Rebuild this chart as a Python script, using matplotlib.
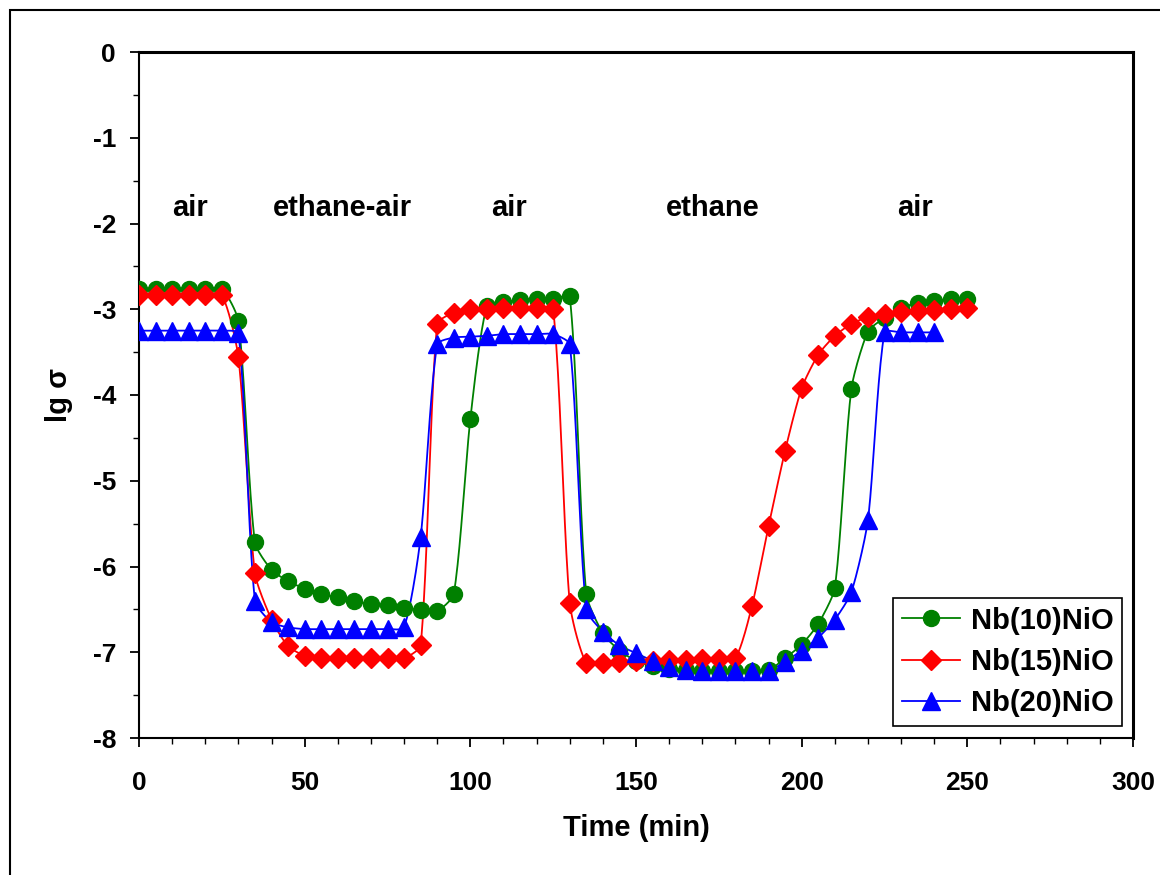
import numpy as np
import matplotlib
matplotlib.use("Agg")
import matplotlib.pyplot as plt
from matplotlib.patches import Rectangle
from matplotlib.ticker import MultipleLocator

plt.rcParams['font.family'] = ['Liberation Sans', 'DejaVu Sans']
plt.rcParams['font.weight'] = 'bold'
plt.rcParams['axes.unicode_minus'] = False

time_nb10 = list(range(0, 255, 5))
nb10 = [-2.76, -2.76, -2.76, -2.76, -2.76, -2.76, -3.14, -5.72, -6.04, -6.17,
        -6.26, -6.32, -6.36, -6.40, -6.44, -6.45, -6.48, -6.51, -6.52, -6.32,
        -4.28, -2.96, -2.92, -2.89, -2.88, -2.88, -2.85, -6.32, -6.78, -6.98,
        -7.10, -7.16, -7.19, -7.21, -7.22, -7.22, -7.22, -7.22, -7.21, -7.07,
        -6.91, -6.67, -6.25, -3.93, -3.26, -3.10, -2.98, -2.93, -2.90, -2.88,
        -2.88]

time_nb15 = list(range(0, 255, 5))
nb15 = [-2.83, -2.83, -2.83, -2.83, -2.83, -2.83, -3.56, -6.08, -6.62, -6.93,
        -7.04, -7.07, -7.07, -7.07, -7.07, -7.07, -7.07, -6.92, -3.17, -3.04,
        -3.00, -3.00, -2.99, -2.99, -2.99, -3.00, -6.42, -7.13, -7.12, -7.11,
        -7.10, -7.10, -7.09, -7.09, -7.08, -7.08, -7.07, -6.46, -5.53, -4.65,
        -3.92, -3.53, -3.31, -3.17, -3.09, -3.05, -3.03, -3.02, -3.01, -3.00,
        -2.99]

time_nb20 = list(range(0, 245, 5))
nb20 = [-3.25, -3.25, -3.25, -3.25, -3.25, -3.25, -3.28, -6.40, -6.65, -6.71,
        -6.73, -6.73, -6.73, -6.73, -6.73, -6.73, -6.71, -5.66, -3.41, -3.33,
        -3.32, -3.31, -3.29, -3.29, -3.29, -3.29, -3.41, -6.50, -6.76, -6.92,
        -7.01, -7.10, -7.17, -7.21, -7.22, -7.22, -7.22, -7.22, -7.22, -7.11,
        -6.98, -6.83, -6.62, -6.30, -5.46, -3.27, -3.27, -3.27, -3.27]

series_labels = ['Nb(10)NiO', 'Nb(15)NiO', 'Nb(20)NiO']
region_labels = ['air', 'ethane-air', 'air', 'ethane', 'air']
region_x = [15.4, 61.4, 111.7, 173.3, 234.2]
region_y = -1.82

XMIN, XMAX, YMIN, YMAX = 0, 300, -8, 0

fig = plt.figure(figsize=(11.6, 8.75), dpi=100)
ax = fig.add_axes([139 / 1160, 1 - 738 / 875, (1133 - 139) / 1160, (738 - 52) / 875])
ax.set_xlim(XMIN, XMAX)
ax.set_ylim(YMIN, YMAX)

# pixel scale of the data units (for a visually uniform smoothing)
bbox = ax.get_window_extent()
SX = bbox.width / (XMAX - XMIN)
SY = bbox.height / (YMAX - YMIN)


def smooth(x, y, n=20, k=0.22):
    """Excel-like smoothed line through the points (Bezier, tangent scaled by segment length)."""
    P = np.column_stack([np.asarray(x, float) * SX, np.asarray(y, float) * SY])
    m = len(P)
    D = np.zeros_like(P)
    for i in range(m):
        a = P[i - 1] if i > 0 else P[i]
        b = P[i + 1] if i < m - 1 else P[i]
        v = b - a
        nv = np.hypot(*v)
        D[i] = v / nv if nv > 0 else 0
    out = []
    for i in range(m - 1):
        p1, p2 = P[i], P[i + 1]
        L = np.hypot(*(p2 - p1))
        c1 = p1 + D[i] * L * k
        c2 = p2 - D[i + 1] * L * k
        s = np.linspace(0, 1, n, endpoint=(i == m - 2))[:, None]
        bz = ((1 - s) ** 3) * p1 + 3 * ((1 - s) ** 2) * s * c1 + 3 * (1 - s) * s ** 2 * c2 + s ** 3 * p2
        out.append(bz)
    out = np.vstack(out)
    return out[:, 0] / SX, out[:, 1] / SY


fig.patches.append(Rectangle((10 / 1160, -0.2), 2, 1.2 - 10 / 875, transform=fig.transFigure,
                             fill=False, edgecolor='black', linewidth=1.5))

specs = [(time_nb10, nb10, '#008000', 'o', 11.5),
         (time_nb15, nb15, '#FF0000', 'D', 10),
         (time_nb20, nb20, '#0000FF', '^', 12.5)]

for (tx, ty, c, m, ms), lab in zip(specs, series_labels):
    sx, sy = smooth(tx, ty)
    ax.plot(sx, sy, color=c, lw=1.3, zorder=2)
    ax.plot(tx, ty, linestyle='none', marker=m, markersize=ms, color=c,
            markeredgecolor=c, zorder=3)
    ax.plot([], [], color=c, lw=1.3, marker=m, markersize=ms, markeredgecolor=c, label=lab)

for txt, xx in zip(region_labels, region_x):
    ax.text(xx, region_y, txt, ha='center', va='center', fontsize=21, fontweight='bold')

ax.xaxis.set_major_locator(MultipleLocator(50))
ax.xaxis.set_minor_locator(MultipleLocator(10))
ax.yaxis.set_major_locator(MultipleLocator(1))
ax.yaxis.set_minor_locator(MultipleLocator(0.5))
ax.tick_params(which='major', direction='out', length=6.5, width=1.3, labelsize=19)
ax.tick_params(which='minor', direction='out', length=4.5, width=1.0)
ax.tick_params(axis='x', which='major', pad=17)
ax.tick_params(axis='y', which='major', pad=10)
for lab in ax.get_xticklabels() + ax.get_yticklabels():
    lab.set_fontweight('bold')

for s in ax.spines.values():
    s.set_linewidth(1.5)
ax.spines['right'].set_linewidth(2.2)
ax.spines['top'].set_linewidth(2.2)

ax.set_xlabel('Time (min)', fontsize=21, fontweight='bold', labelpad=14)
ax.set_ylabel('lg σ', fontsize=21, fontweight='bold', labelpad=14)

leg = ax.legend(loc='lower right', bbox_to_anchor=(0.989, 0.018), fontsize=21, frameon=True,
                fancybox=False, edgecolor='black', framealpha=1, handlelength=2.0,
                borderpad=0.3, labelspacing=0.45, handletextpad=0.35, borderaxespad=0)
leg.get_frame().set_linewidth(1.2)
for t in leg.get_texts():
    t.set_fontweight('bold')

fig.savefig('out.png', dpi=100)
